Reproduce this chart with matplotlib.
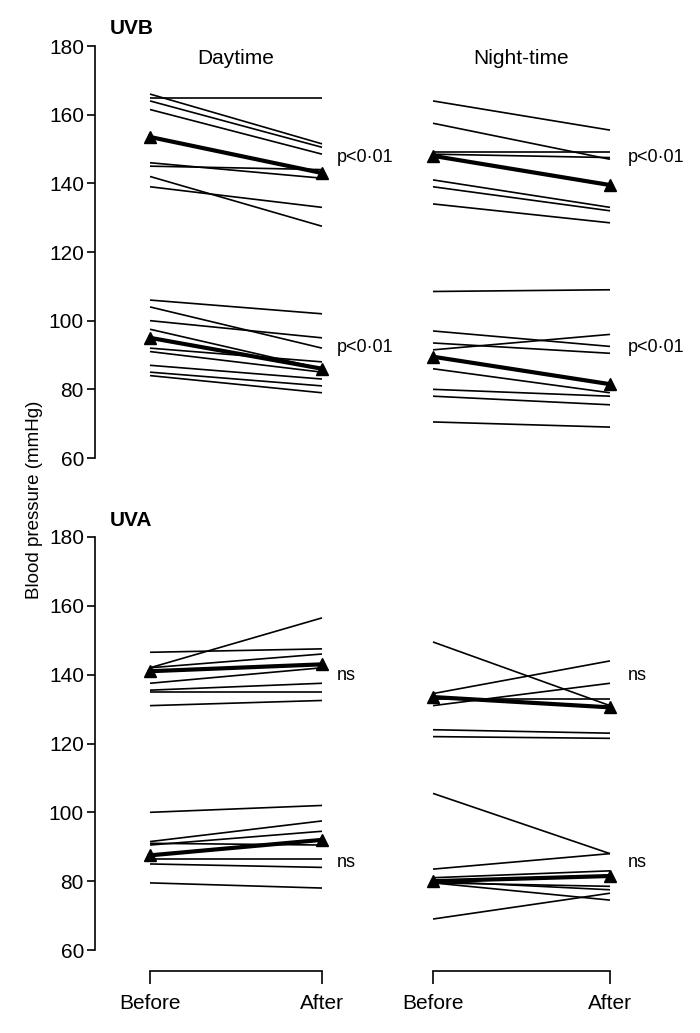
import numpy as np
import matplotlib
matplotlib.use("Agg")
import matplotlib.pyplot as plt

plt.rcParams['font.family'] = ['Liberation Sans', 'DejaVu Sans']

# UVB, daytime
uvb_day_sys_before = [165, 166, 164, 161.5, 146, 145, 142, 139]
uvb_day_sys_after = [165, 151.5, 150.5, 148.5, 141.5, 144, 127.5, 133]
uvb_day_sys_mean = [153.5, 143]
uvb_day_dia_before = [106, 104, 100, 97.5, 92, 91, 87, 85, 84]
uvb_day_dia_after = [102, 92, 95, 86, 88, 85, 83, 81, 79]
uvb_day_dia_mean = [95, 86]

# UVB, night-time
uvb_night_sys_before = [164, 157.5, 149, 148.5, 141, 139, 134]
uvb_night_sys_after = [155.5, 147, 149, 147.5, 133, 132, 128.5]
uvb_night_sys_mean = [148, 139.5]
uvb_night_dia_before = [108.5, 97, 93.5, 91.5, 86, 80, 78, 70.5]
uvb_night_dia_after = [109, 92.5, 90.5, 96, 79, 78, 75.5, 69]
uvb_night_dia_mean = [89.5, 81.5]

# UVA, daytime
uva_day_sys_before = [146.5, 142, 142, 137.5, 135.5, 135, 131]
uva_day_sys_after = [147.5, 156.5, 146, 142, 137.5, 135, 132.5]
uva_day_sys_mean = [141, 143]
uva_day_dia_before = [100, 91.5, 90.5, 91, 86.5, 85, 79.5]
uva_day_dia_after = [102, 97.5, 94.5, 90.5, 86.5, 84, 78]
uva_day_dia_mean = [87.5, 92]

# UVA, night-time
uva_night_sys_before = [149.5, 134.5, 131, 133, 124, 122]
uva_night_sys_after = [131, 144, 137.5, 133, 123, 121.5]
uva_night_sys_mean = [133.5, 130.5]
uva_night_dia_before = [105.5, 83.5, 81, 80, 79.5, 79.5, 69]
uva_night_dia_after = [88, 88, 83, 77.5, 78.5, 74.5, 76.5]
uva_night_dia_mean = [80, 81.5]

timepoints = ["Before", "After"]
yticks = [60, 80, 100, 120, 140, 160, 180]

fig = plt.figure(figsize=(7, 10.33), dpi=100)

# axes boxes (figure fractions)
day_box = [95 / 700, 0, 285 / 700, 0]
night_box = [380 / 700, 0, 320 / 700, 0]
row_top = (1 - 458 / 1033, 412 / 1033)
row_bot = (1 - 950 / 1033, 413 / 1033)


def make_ax(box, row, xlim, left_spine, bottom_spine):
    ax = fig.add_axes([box[0], row[0], box[2], row[1]])
    ax.set_xlim(xlim)
    ax.set_ylim(60, 180)
    for s in ['top', 'right']:
        ax.spines[s].set_visible(False)
    ax.patch.set_alpha(0)
    if left_spine:
        ax.spines['left'].set_linewidth(1.2)
        ax.set_yticks(yticks)
        ax.tick_params(axis='y', direction='out', length=6, width=1.2,
                       labelsize=15, pad=2)
    else:
        ax.spines['left'].set_visible(False)
        ax.set_yticks([])
    if bottom_spine:
        ax.spines['bottom'].set_position(('outward', 15))
        ax.spines['bottom'].set_bounds(0, 1)
        ax.spines['bottom'].set_linewidth(1.2)
        ax.set_xticks([0, 1])
        ax.set_xticklabels(timepoints)
        ax.tick_params(axis='x', direction='out', length=9, width=1.2,
                       labelsize=15, pad=8)
    else:
        ax.spines['bottom'].set_visible(False)
        ax.set_xticks([])
    return ax


def draw_group(ax, before, after, mean):
    for b, a in zip(before, after):
        ax.plot([0, 1], [b, a], color='black', lw=1.2, solid_capstyle='butt')
    ax.plot([0, 1], mean, color='black', lw=3.0, marker='^', ms=8,
            clip_on=False)


day_xlim = (-55 / 172, 230 / 172)
night_xlim = (-53 / 177, 267 / 177)

ax1 = make_ax(day_box, row_top, day_xlim, True, False)
ax2 = make_ax(night_box, row_top, night_xlim, False, False)
ax3 = make_ax(day_box, row_bot, day_xlim, True, True)
ax4 = make_ax(night_box, row_bot, night_xlim, False, True)

draw_group(ax1, uvb_day_sys_before, uvb_day_sys_after, uvb_day_sys_mean)
draw_group(ax1, uvb_day_dia_before, uvb_day_dia_after, uvb_day_dia_mean)
draw_group(ax2, uvb_night_sys_before, uvb_night_sys_after, uvb_night_sys_mean)
draw_group(ax2, uvb_night_dia_before, uvb_night_dia_after, uvb_night_dia_mean)
draw_group(ax3, uva_day_sys_before, uva_day_sys_after, uva_day_sys_mean)
draw_group(ax3, uva_day_dia_before, uva_day_dia_after, uva_day_dia_mean)
draw_group(ax4, uva_night_sys_before, uva_night_sys_after, uva_night_sys_mean)
draw_group(ax4, uva_night_dia_before, uva_night_dia_after, uva_night_dia_mean)

# titles
ax1.text(0.5, 176.5, "Daytime", ha='center', va='center', fontsize=15)
ax2.text(0.5, 176.5, "Night-time", ha='center', va='center', fontsize=15)

# significance labels
ax1.text(1.087, 147.4, "p<0\u00b701", va='center', fontsize=13)
ax1.text(1.087, 92.3, "p<0\u00b701", va='center', fontsize=13)
ax2.text(1.10, 147.4, "p<0\u00b701", va='center', fontsize=13)
ax2.text(1.10, 92.3, "p<0\u00b701", va='center', fontsize=13)
ax3.text(1.087, 139.9, "ns", va='center', fontsize=13)
ax3.text(1.087, 85.5, "ns", va='center', fontsize=13)
ax4.text(1.10, 139.9, "ns", va='center', fontsize=13)
ax4.text(1.10, 85.5, "ns", va='center', fontsize=13)

fig.text(110 / 700, 1 - 28 / 1033, "UVB", fontsize=15, fontweight='bold',
         va='center')
fig.text(110 / 700, 1 - 521 / 1033, "UVA", fontsize=15, fontweight='bold',
         va='center')
fig.text(35 / 700, 1 - 500 / 1033, "Blood pressure (mmHg)", rotation=90,
         ha='center', va='center', fontsize=13.5)

fig.savefig("out.png", dpi=100)
